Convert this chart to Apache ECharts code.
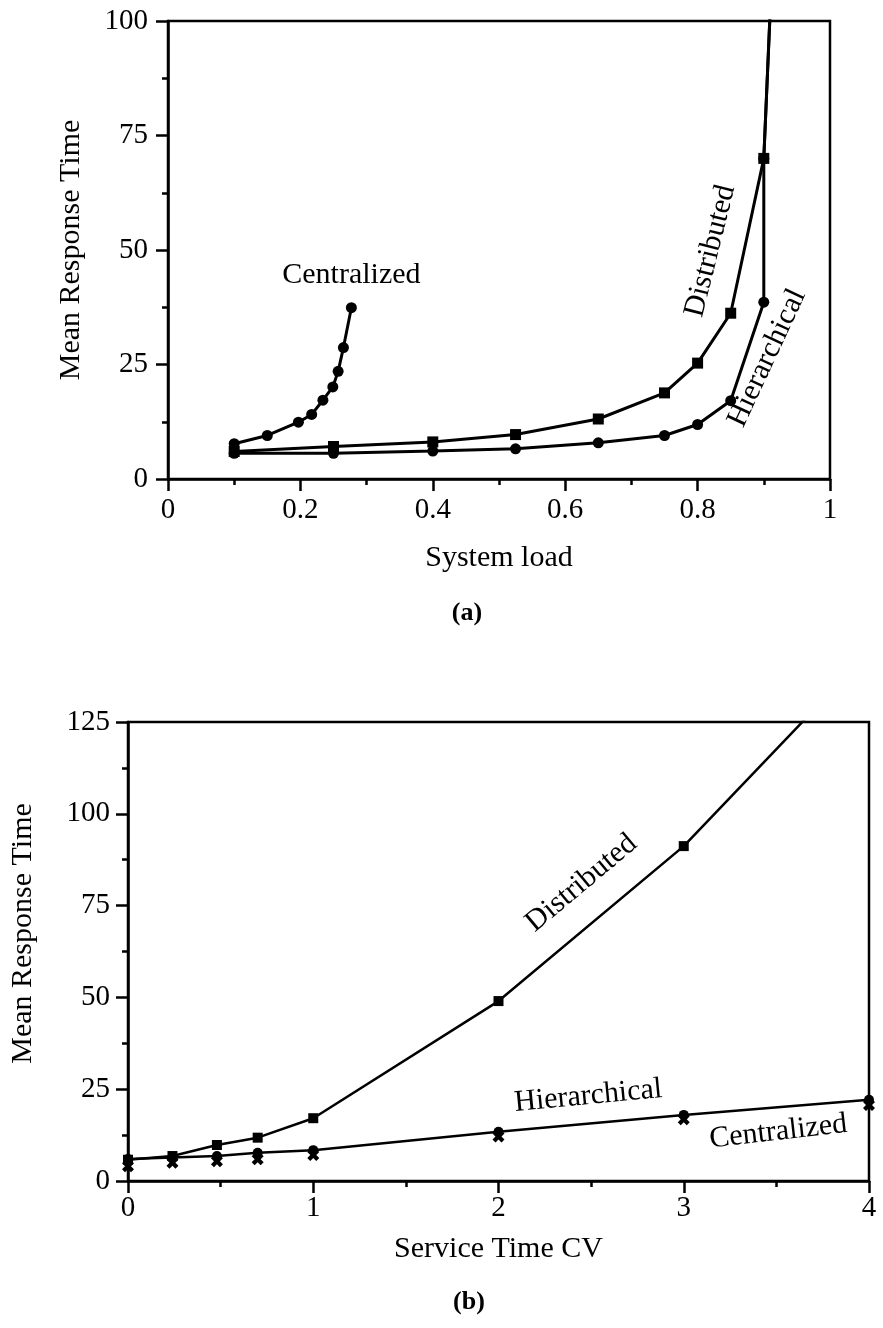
<!DOCTYPE html>
<html><head><meta charset="utf-8">
<script src="https://cdn.jsdelivr.net/npm/echarts@6/dist/echarts.min.js"></script>
<style>html,body{margin:0;padding:0;background:#fff}#c{width:883px;height:1328px}</style>
</head><body><div id="c"></div>
<script>
// ---- Chart (a): Mean Response Time vs System load ----
const centLoad = [0.1, 0.15, 0.197, 0.217, 0.234, 0.249, 0.257, 0.265, 0.277];
const centTimeA = [7.7, 9.5, 12.4, 14.1, 17.2, 20.1, 23.5, 28.7, 37.4];
const distLoad = [0.1, 0.25, 0.4, 0.525, 0.65, 0.75, 0.8, 0.85, 0.9, 0.95];
const distTimeA = [6.0, 7.1, 8.1, 9.7, 13.1, 18.8, 25.3, 36.2, 70.0, 237];
const hierLoad = [0.1, 0.25, 0.4, 0.525, 0.65, 0.75, 0.8, 0.85, 0.9, 0.9, 0.95];
const hierTimeA = [5.6, 5.6, 6.1, 6.6, 7.9, 9.5, 11.9, 17.1, 38.6, 70.0, 237];

// ---- Chart (b): Mean Response Time vs Service Time CV ----
const cvValues = [0, 0.24, 0.48, 0.7, 1, 2, 3, 4];
const distTimeB = [5.8, 6.8, 9.8, 11.8, 17.1, 49.0, 91.2, 144];
const hierTimeB = [6.0, 6.4, 6.8, 7.7, 8.4, 13.4, 18.0, 22.1];
const centTimeB = [4.0, 5.0, 5.4, 5.9, 7.1, 12.1, 16.8, 20.7];

const FONT = '"Liberation Serif", "Times New Roman", serif';
const pair = (xs, ys) => xs.map((x, i) => [x, ys[i]]);
const XSYM = 'path://M0,2.5 L2.5,0 L5,2.5 L7.5,0 L10,2.5 L7.5,5 L10,7.5 L7.5,10 L5,7.5 L2.5,10 L0,7.5 L2.5,5 Z';

function valueAxis(extra) {
  return Object.assign({
    type: 'value',
    axisLine: { show: true, onZero: false, lineStyle: { color: '#000', width: 2.5 } },
    axisTick: { show: true, inside: false, length: 12, lineStyle: { color: '#000', width: 2.5 } },
    minorTick: { show: true, splitNumber: 2, length: 6, lineStyle: { color: '#000', width: 2.5 } },
    splitLine: { show: false },
    axisLabel: { color: '#000', fontFamily: FONT, fontSize: 29 },
    nameTextStyle: { color: '#000', fontFamily: FONT, fontSize: 30 },
    nameLocation: 'middle'
  }, extra);
}

const lineStyle = { color: '#000', width: 3 };

const chart = echarts.init(document.getElementById('c'), null, { renderer: 'canvas' });
chart.setOption({
  backgroundColor: '#fff',
  animation: false,
  title: [
    { text: '(a)', left: 462, top: 595, textAlign: 'center', textStyle: { fontFamily: FONT, fontSize: 26, fontWeight: 'bold', color: '#000' } },
    { text: '(b)', left: 464, top: 1284, textAlign: 'center', textStyle: { fontFamily: FONT, fontSize: 26, fontWeight: 'bold', color: '#000' } }
  ],
  grid: [
    { left: 168, top: 21, right: 53, bottom: 849, show: true, borderColor: '#000', borderWidth: 2.5, backgroundColor: 'transparent' },
    { left: 128, top: 722, right: 14, bottom: 147, show: true, borderColor: '#000', borderWidth: 2.5, backgroundColor: 'transparent' }
  ],
  xAxis: [
    valueAxis({ gridIndex: 0, min: 0, max: 1, interval: 0.2, name: 'System load', nameGap: 64,
      axisLabel: { color: '#000', fontFamily: FONT, fontSize: 29, margin: 17 } }),
    valueAxis({ gridIndex: 1, min: 0, max: 4, interval: 1, name: 'Service Time CV', nameGap: 53,
      axisLabel: { color: '#000', fontFamily: FONT, fontSize: 29, margin: 13 } })
  ],
  yAxis: [
    valueAxis({ gridIndex: 0, min: 0, max: 100, interval: 25, name: 'Mean Response Time', nameGap: 82,
      axisLabel: { color: '#000', fontFamily: FONT, fontSize: 29, margin: 20 } }),
    valueAxis({ gridIndex: 1, min: 0, max: 125, interval: 25, name: 'Mean Response Time', nameGap: 90,
      nameTextStyle: { color: '#000', fontFamily: FONT, fontSize: 30, padding: [0, 0, 0, 36] },
      axisLabel: { color: '#000', fontFamily: FONT, fontSize: 29, margin: 18 } })
  ],
  series: [
    { name: 'Hierarchical', type: 'line', xAxisIndex: 0, yAxisIndex: 0, data: pair(hierLoad, hierTimeA),
      symbol: 'circle', symbolSize: 11, showAllSymbol: true, lineStyle, itemStyle: { color: '#000' } },
    { name: 'Distributed', type: 'line', xAxisIndex: 0, yAxisIndex: 0, data: pair(distLoad, distTimeA),
      symbol: 'rect', symbolSize: 11, showAllSymbol: true, lineStyle, itemStyle: { color: '#000' } },
    { name: 'Centralized', type: 'line', xAxisIndex: 0, yAxisIndex: 0, data: pair(centLoad, centTimeA),
      symbol: 'circle', symbolSize: 11, showAllSymbol: true, lineStyle, itemStyle: { color: '#000' } },

    { name: 'Centralized', type: 'scatter', xAxisIndex: 1, yAxisIndex: 1, data: pair(cvValues, centTimeB),
      symbol: XSYM, symbolSize: 12, itemStyle: { color: '#000', opacity: 1 } },
    { name: 'Hierarchical', type: 'line', xAxisIndex: 1, yAxisIndex: 1, data: pair(cvValues, hierTimeB),
      symbol: 'circle', symbolSize: 10, showAllSymbol: true, lineStyle: { color: '#000', width: 2.5 }, itemStyle: { color: '#000' } },
    { name: 'Distributed', type: 'line', xAxisIndex: 1, yAxisIndex: 1, data: pair(cvValues, distTimeB),
      symbol: 'rect', symbolSize: 10, showAllSymbol: true, lineStyle: { color: '#000', width: 2.5 }, itemStyle: { color: '#000' } }
  ]
});

// curve labels, placed at data coordinates
const notes = [
  { g: 0, text: 'Centralized', at: [0.277, 44.5], angle: 0 },
  { g: 0, text: 'Distributed', at: [0.8195, 49.8], angle: 76 },
  { g: 0, text: 'Hierarchical', at: [0.905, 26.4], angle: 65 },
  { g: 1, text: 'Distributed', at: [2.448, 81.1], angle: 40 },
  { g: 1, text: 'Hierarchical', at: [2.484, 23.1], angle: 5.5 },
  { g: 1, text: 'Centralized', at: [3.51, 13.4], angle: 6.5 }
];
chart.setOption({
  graphic: notes.map(n => {
    const p = chart.convertToPixel({ gridIndex: n.g }, n.at);
    return { type: 'text', x: p[0], y: p[1], rotation: n.angle * Math.PI / 180, z: 100,
      style: { text: n.text, fontFamily: FONT, fontSize: 30, fill: '#000', align: 'center', verticalAlign: 'middle' } };
  })
});
</script></body></html>
